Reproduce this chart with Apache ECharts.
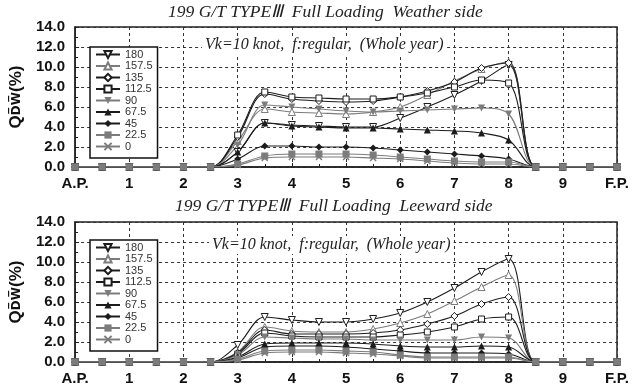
<!DOCTYPE html>
<html>
<head>
<meta charset="utf-8">
<script src="https://cdn.jsdelivr.net/npm/echarts@6/dist/echarts.min.js"></script>
<style>
html,body{margin:0;padding:0;background:#fff;}
#main{width:634px;height:387px;}
</style>
</head>
<body>
<div id="main"></div>
<script>
// stations A.P.(0) .. F.P.(10), every half station
var stations = [0,0.5,1,1.5,2,2.5,3,3.5,4,4.5,5,5.5,6,6.5,7,7.5,8,8.5,9,9.5,10];
var stationLabels = {0:'A.P.',10:'F.P.'};
var headings = ['180','157.5','135','112.5','90','67.5','45','22.5','0'];

// Weather side
var w180 = [0,0,0,0,0,0,1.5,4.4,4.2,4.1,4.0,4.0,4.9,6.0,7.2,8.6,10.2,0,0,0,0];
var w157 = [0,0,0,0,0,0,2.6,5.8,5.5,5.4,5.3,5.5,6.0,7.2,8.6,9.8,10.5,0,0,0,0];
var w135 = [0,0,0,0,0,0,3.0,7.3,6.8,6.6,6.5,6.6,7.0,7.6,8.5,9.9,10.4,0,0,0,0];
var w112 = [0,0,0,0,0,0,3.2,7.5,7.0,6.9,6.8,6.8,7.0,7.4,8.0,8.7,8.4,0,0,0,0];
var w90  = [0,0,0,0,0,0,2.2,6.2,6.0,5.8,5.6,5.5,5.6,5.7,5.8,5.9,5.3,0,0,0,0];
var w67  = [0,0,0,0,0,0,1.5,4.4,4.1,4.0,3.9,3.9,3.8,3.7,3.6,3.4,2.7,0,0,0,0];
var w45  = [0,0,0,0,0,0,0.8,2.1,2.1,2.0,2.0,1.9,1.7,1.5,1.3,1.1,0.8,0,0,0,0];
var w22  = [0,0,0,0,0,0,0.3,1.1,1.3,1.3,1.3,1.2,1.0,0.8,0.6,0.5,0.5,0,0,0,0];
var w0   = [0,0,0,0,0,0,0.2,0.9,1.0,1.0,1.0,0.9,0.8,0.6,0.4,0.3,0.3,0,0,0,0];

// Leeward side
var l180 = [0,0,0,0,0,0,1.7,4.5,4.2,4.0,4.0,4.3,4.9,6.0,7.4,9.0,10.3,0,0,0,0];
var l157 = [0,0,0,0,0,0,1.0,3.5,3.1,3.0,3.0,3.3,3.9,4.8,6.1,7.5,8.7,0,0,0,0];
var l135 = [0,0,0,0,0,0,0.9,3.2,2.8,2.8,2.8,2.9,3.2,3.8,4.6,5.8,6.5,0,0,0,0];
var l112 = [0,0,0,0,0,0,0.8,2.9,2.6,2.5,2.5,2.5,2.7,3.0,3.5,4.3,4.5,0,0,0,0];
var l90  = [0,0,0,0,0,0,0.7,2.5,2.4,2.3,2.3,2.2,2.2,2.2,2.2,2.5,2.4,0,0,0,0];
var l67  = [0,0,0,0,0,0,0.5,1.8,1.9,1.9,1.9,1.8,1.6,1.5,1.5,1.6,1.5,0,0,0,0];
var l45  = [0,0,0,0,0,0,0.4,1.5,1.6,1.6,1.5,1.3,1.1,0.9,0.9,0.9,0.8,0,0,0,0];
var l22  = [0,0,0,0,0,0,0.3,1.1,1.2,1.2,1.1,1.0,0.7,0.5,0.5,0.5,0.5,0,0,0,0];
var l0   = [0,0,0,0,0,0,0.2,0.9,1.0,1.0,0.9,0.8,0.6,0.4,0.4,0.4,0.4,0,0,0,0];

var weather = [w180,w157,w135,w112,w90,w67,w45,w22,w0];
var leeward = [l180,l157,l135,l112,l90,l67,l45,l22,l0];

var BLK = '#1c1c1c', GRY = '#7c7c7c';
var xMark = 'path://M0,0L10,10M10,0L0,10';
var styles = [
  {c:BLK, sym:'triangle', rot:180, hollow:true,  size:7},
  {c:GRY, sym:'triangle', rot:0,   hollow:true,  size:7},
  {c:BLK, sym:'diamond',  rot:0,   hollow:true,  size:7},
  {c:BLK, sym:'rect',     rot:0,   hollow:true,  size:6},
  {c:GRY, sym:'triangle', rot:180, hollow:false, size:7},
  {c:BLK, sym:'triangle', rot:0,   hollow:false, size:7},
  {c:BLK, sym:'diamond',  rot:0,   hollow:false, size:7},
  {c:GRY, sym:'rect',     rot:0,   hollow:false, size:7},
  {c:GRY, sym:xMark,      rot:0,   hollow:false, size:6}
];

var myChart = echarts.init(document.getElementById('main'));

function makeSeries(arrs, idx){
  var out = [];
  for (var i=0;i<arrs.length;i++){
    var s = styles[i];
    var data = [];
    for (var k=0;k<stations.length;k++){ data.push([stations[k], arrs[i][k]]); }
    out.push({
      name: headings[i],
      type: 'line',
      xAxisIndex: idx, yAxisIndex: idx,
      smooth: 0.35,
      symbol: s.sym,
      symbolRotate: s.rot,
      symbolSize: s.size,
      showAllSymbol: true,
      z: i==7 ? 4 : 2,
      lineStyle: {color: s.c, width: 1.1},
      itemStyle: {
        color: s.hollow ? '#fff' : s.c,
        borderColor: s.c,
        borderWidth: (s.sym==xMark) ? 1.4 : (s.hollow ? 1 : 0)
      },
      data: data
    });
  }
  return out;
}

function xAxisOf(idx){
  return {
    type:'value', gridIndex: idx, min:0, max:10, interval:1,
    axisLine:{lineStyle:{color:'#222', width:1.5}},
    axisTick:{inside:true, length:4, lineStyle:{color:'#222'}},
    minorTick:{show:true, splitNumber:2, length:3, lineStyle:{color:'#222'}},
    splitLine:{show:true, lineStyle:{type:[3,3], color:'#333', width:1}},
    axisLabel:{
      formatter:function(v){ return stationLabels[v] || String(v); },
      fontFamily:'Arial', fontWeight:'bold', fontSize:15, color:'#111', margin:9
    }
  };
}

function yAxisOf(idx){
  return {
    type:'value', gridIndex: idx, min:0, max:14, interval:2,
    name:'{q|Q}{s|D\u0305W\u0305}{q|(%)}',
    nameLocation:'middle', nameRotate:90, nameGap:50,
    nameTextStyle:{
      rich:{
        q:{fontFamily:'Arial', fontWeight:'bold', fontSize:17, color:'#111'},
        s:{fontFamily:'DejaVu Sans', fontWeight:'bold', fontSize:12, color:'#111'}
      }
    },
    axisLine:{show:true, lineStyle:{color:'#222', width:1.5}},
    axisTick:{show:true, inside:true, length:4, lineStyle:{color:'#222'}},
    minorTick:{show:true, splitNumber:2, length:3, lineStyle:{color:'#222'}},
    splitLine:{show:true, lineStyle:{type:[3,3], color:'#333', width:1}},
    axisLabel:{
      formatter:function(v){ return v.toFixed(1); },
      fontFamily:'Arial', fontWeight:'bold', fontSize:15, color:'#111', margin:10
    }
  };
}

var titleFont = {fontFamily:'Liberation Serif', fontStyle:'italic', fontWeight:'normal', fontSize:17.5, color:'#222'};
var subFont = {fontFamily:'Liberation Serif', fontStyle:'italic', fontWeight:'normal', fontSize:16, color:'#222'};

function legendOf(top){
  return {
    data: headings, orient:'vertical', left:90, top: top,
    backgroundColor:'#fff', borderColor:'#111', borderWidth:1.5,
    padding:[2,5,6,5], itemWidth:24, itemHeight:9, itemGap:0.5,
    textStyle:{fontFamily:'Arial', fontSize:11, color:'#333'}
  };
}

var option = {
  animation:false,
  title:[
    {text:'199 G/T TYPE\u2162  Full Loading  Weather side', left:168, top:3, padding:0, textStyle:titleFont},
    {text:'Vk=10 knot,  f:regular,  (Whole year)', left:202, top:36, padding:[1,3], backgroundColor:'#fff', textStyle:subFont},
    {text:'199 G/T TYPE\u2162  Full Loading  Leeward side', left:175, top:197, padding:0, textStyle:titleFont},
    {text:'Vk=10 knot,  f:regular,  (Whole year)', left:209, top:236, padding:[1,3], backgroundColor:'#fff', textStyle:subFont}
  ],
  legend:[legendOf(47), legendOf(240)],
  grid:[
    {left:74, right:17, top:27, height:140, show:true, borderColor:'#222', borderWidth:1.5},
    {left:74, right:17, top:222, height:140, show:true, borderColor:'#222', borderWidth:1.5}
  ],
  xAxis:[xAxisOf(0), xAxisOf(1)],
  yAxis:[yAxisOf(0), yAxisOf(1)],
  series: makeSeries(weather,0).concat(makeSeries(leeward,1))
};
myChart.setOption(option);
</script>
</body>
</html>
